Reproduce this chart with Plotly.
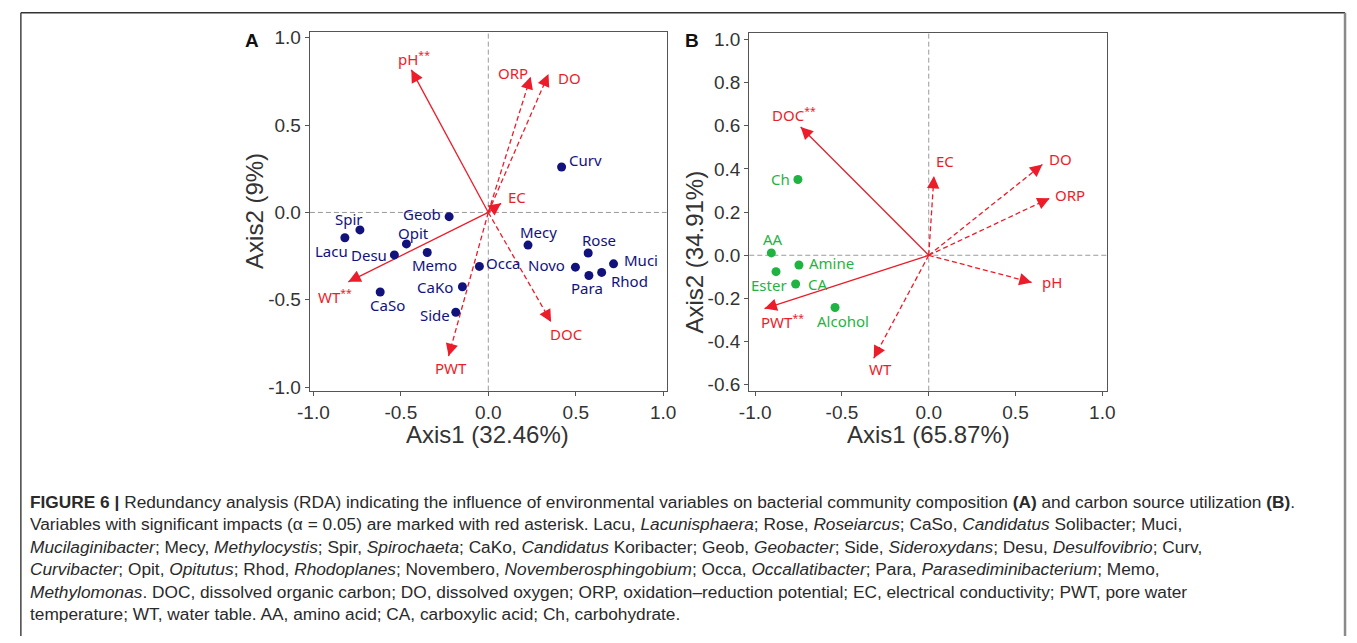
import math
import plotly.graph_objects as go

# ---------------- data ----------------
A_taxa = ["Spir", "Lacu", "Geob", "Opit", "Desu", "Memo", "Occa", "CaKo", "CaSo",
          "Side", "Mecy", "Rose", "Novo", "Muci", "Rhod", "Para", "Curv"]
A_x = [-0.734, -0.82, -0.224, -0.468, -0.537, -0.349, -0.051, -0.148, -0.618,
       -0.186, 0.227, 0.571, 0.498, 0.716, 0.648, 0.575, 0.419]
A_y = [-0.10, -0.145, -0.024, -0.18, -0.243, -0.229, -0.309, -0.425, -0.455,
       -0.571, -0.187, -0.232, -0.313, -0.294, -0.343, -0.361, 0.26]

A_env = ["pH", "ORP", "DO", "EC", "WT", "PWT", "DOC"]
A_env_x = [-0.44, 0.242, 0.344, 0.073, -0.80, -0.227, 0.359]
A_env_y = [0.816, 0.777, 0.792, 0.052, -0.397, -0.822, -0.627]
A_sig = [True, False, False, False, True, False, False]

B_src = ["Ch", "AA", "Amine", "Ester", "CA", "Alcohol"]
B_x = [-0.754, -0.907, -0.748, -0.88, -0.767, -0.54]
B_y = [0.351, 0.011, -0.045, -0.076, -0.133, -0.242]

B_env = ["DOC", "EC", "DO", "ORP", "pH", "PWT", "WT"]
B_env_x = [-0.738, 0.03, 0.655, 0.697, 0.593, -0.946, -0.317]
B_env_y = [0.594, 0.367, 0.42, 0.264, -0.126, -0.247, -0.477]
B_sig = [True, False, False, False, False, True, False]

A_ticks = [-1.0, -0.5, 0.0, 0.5, 1.0]
A_ticktext = ["-1.0", "-0.5", "0.0", "0.5", "1.0"]
B_xticks = [-1.0, -0.5, 0.0, 0.5, 1.0]
B_xticktext = ["-1.0", "-0.5", "0.0", "0.5", "1.0"]
B_yticks = [-0.6, -0.4, -0.2, 0.0, 0.2, 0.4, 0.6, 0.8, 1.0]
B_yticktext = ["-0.6", "-0.4", "-0.2", "0.0", "0.2", "0.4", "0.6", "0.8", "1.0"]

axis_titles = {"A_x": "Axis1 (32.46%)", "A_y": "Axis2 (9%)",
               "B_x": "Axis1 (65.87%)", "B_y": "Axis2 (34.91%)"}

caption_lines = [
    "<b>FIGURE 6 |</b> Redundancy analysis (RDA) indicating the influence of environmental variables on bacterial community composition <b>(A)</b> and carbon source utilization <b>(B)</b>.",
    "Variables with significant impacts (α = 0.05) are marked with red asterisk. Lacu, <i>Lacunisphaera</i>; Rose, <i>Roseiarcus</i>; CaSo, <i>Candidatus</i> Solibacter; Muci,",
    "<i>Mucilaginibacter</i>; Mecy, <i>Methylocystis</i>; Spir, <i>Spirochaeta</i>; CaKo, <i>Candidatus</i> Koribacter; Geob, <i>Geobacter</i>; Side, <i>Sideroxydans</i>; Desu, <i>Desulfovibrio</i>; Curv,",
    "<i>Curvibacter</i>; Opit, <i>Opitutus</i>; Rhod, <i>Rhodoplanes</i>; Novembero, <i>Novemberosphingobium</i>; Occa, <i>Occallatibacter</i>; Para, <i>Parasediminibacterium</i>; Memo,",
    "<i>Methylomonas</i>. DOC, dissolved organic carbon; DO, dissolved oxygen; ORP, oxidation–reduction potential; EC, electrical conductivity; PWT, pore water",
    "temperature; WT, water table. AA, amino acid; CA, carboxylic acid; Ch, carbohydrate.",
]

# ---------------- styles ----------------
W, H = 1357, 643
RED = "#ec1c2a"
NAVY = "#12127c"
GREEN = "#1fb441"
AXC = "#555555"
TXT = "#333333"
LABEL_FONT = "Noto Sans"

A_taxa_off = [(-11, -11), (-13, 13), (-27, -3), (7, -11), (-25, 0), (7, 13), (24, -3),
              (-27, 0), (7, 13), (-21, 3), (10, -13), (11, -13), (-29, -2), (27, -4),
              (28, 9), (-2, 12), (24, -7)]
A_env_off = [(3, -11), (-18, -4), (21, 4), (16, -6), (-13, 15), (2, 12), (15, 12)]
A_env_dash = ["solid", "5px,3px", "5px,3px", "solid", "solid", "5px,3px", "5px,3px"]
B_src_off = [(-17, 0), (2, -14), (33, -2), (-7, 13), (22, 0), (8, 13)]
B_env_off = [(-7, -12), (11, -15), (18, -6), (20, -3), (20, 0), (18, 13), (7, 11)]
B_env_dash = ["solid", "5px,3px", "5px,3px", "5px,3px", "5px,3px", "solid", "5px,3px"]


def px(v):
    return v / W


def py(v):
    return 1 - v / H


fig = go.Figure()
annotations = []
shapes = []


def add_panel(xref, yref, pts_x, pts_y, names, offs, color,
              ex, ey, enames, esig, eoffs, edash):
    shapes.append(dict(type="line", xref=xref, yref=yref + " domain", x0=0, x1=0, y0=0, y1=1,
                       line=dict(color="#9a9a9a", width=1, dash="5px,3px"), layer="below"))
    shapes.append(dict(type="line", xref=xref + " domain", yref=yref, x0=0, x1=1, y0=0, y1=0,
                       line=dict(color="#9a9a9a", width=1, dash="5px,3px"), layer="below"))
    for i in range(len(enames)):
        fig.add_trace(go.Scatter(x=[0, ex[i]], y=[0, ey[i]], mode="lines", xaxis=xref, yaxis=yref,
                                 line=dict(color=RED, width=1.3, dash=edash[i]),
                                 hoverinfo="skip", showlegend=False))
        L = math.hypot(ex[i], ey[i])
        back = 0.05 / L
        annotations.append(dict(x=ex[i], y=ey[i], ax=ex[i] * (1 - back), ay=ey[i] * (1 - back),
                                xref=xref, yref=yref, axref=xref, ayref=yref, text="",
                                showarrow=True, arrowhead=2, arrowsize=1.9, arrowwidth=1.3,
                                arrowcolor=RED, standoff=0, startstandoff=0))
        label = enames[i] + ("<sup>**</sup>" if esig[i] else "")
        annotations.append(dict(x=ex[i], y=ey[i], xref=xref, yref=yref, text=label,
                                showarrow=False, xshift=eoffs[i][0], yshift=-eoffs[i][1],
                                font=dict(family=LABEL_FONT, size=15, color=RED)))
    fig.add_trace(go.Scatter(x=pts_x, y=pts_y, mode="markers", xaxis=xref, yaxis=yref,
                             marker=dict(color=color, size=9), hoverinfo="skip", showlegend=False))
    for i in range(len(names)):
        annotations.append(dict(x=pts_x[i], y=pts_y[i], xref=xref, yref=yref, text=names[i],
                                showarrow=False, xshift=offs[i][0], yshift=-offs[i][1],
                                font=dict(family=LABEL_FONT, size=15, color=color)))


add_panel("x", "y", A_x, A_y, A_taxa, A_taxa_off, NAVY,
          A_env_x, A_env_y, A_env, A_sig, A_env_off, A_env_dash)
add_panel("x2", "y2", B_x, B_y, B_src, B_src_off, GREEN,
          B_env_x, B_env_y, B_env, B_sig, B_env_off, B_env_dash)

axis_common = dict(showline=True, mirror=True, linecolor=AXC, linewidth=1.3, ticks="outside",
                   ticklen=4, tickcolor=AXC, tickwidth=1.2, showgrid=False, zeroline=False,
                   tickfont=dict(family="Liberation Sans, Arial", size=19, color=TXT))

annotations += [
    dict(x=px(483), y=py(438), xref="paper", yref="paper", text=axis_titles["A_x"], showarrow=False,
         font=dict(family="Liberation Sans, Arial", size=24, color=TXT), xanchor="center", yanchor="middle"),
    dict(x=px(245), y=py(210), xref="paper", yref="paper", text=axis_titles["A_y"], showarrow=False,
         textangle=-90, font=dict(family="Liberation Sans, Arial", size=24, color=TXT),
         xanchor="center", yanchor="middle"),
    dict(x=px(931), y=py(438), xref="paper", yref="paper", text=axis_titles["B_x"], showarrow=False,
         font=dict(family="Liberation Sans, Arial", size=24, color=TXT), xanchor="center", yanchor="middle"),
    dict(x=px(693), y=py(252), xref="paper", yref="paper", text=axis_titles["B_y"], showarrow=False,
         textangle=-90, font=dict(family="Liberation Sans, Arial", size=24, color=TXT),
         xanchor="center", yanchor="middle"),
    dict(x=px(243), y=py(36), xref="paper", yref="paper", text="<b>A</b>", showarrow=False,
         font=dict(family="Liberation Sans, Arial", size=19, color="#111111"), xanchor="center", yanchor="middle"),
    dict(x=px(691), y=py(36), xref="paper", yref="paper", text="<b>B</b>", showarrow=False,
         font=dict(family="Liberation Sans, Arial", size=19, color="#111111"), xanchor="center", yanchor="middle"),
]

for i, line in enumerate(caption_lines):
    annotations.append(dict(x=px(15), y=py(506 + 23 * i), xref="paper", yref="paper", text=line,
                            showarrow=False, xanchor="left", yanchor="middle",
                            font=dict(family="Liberation Sans, Arial", size=17.3, color="#2a2a2a")))

shapes += [
    dict(type="line", xref="paper", yref="paper", x0=px(8), x1=px(1355), y0=py(8), y1=py(8),
         line=dict(color="#333333", width=1.5)),
    dict(type="line", xref="paper", yref="paper", x0=px(8), x1=px(8), y0=py(8), y1=py(643),
         line=dict(color="#444444", width=1.5)),
    dict(type="line", xref="paper", yref="paper", x0=px(1355), x1=px(1355), y0=py(8), y1=py(643),
         line=dict(color="#8a8a8a", width=2.5)),
]

fig.update_layout(
    width=W, height=H, margin=dict(l=0, r=0, t=0, b=0),
    paper_bgcolor="white", plot_bgcolor="white", showlegend=False,
    xaxis=dict(domain=[px(302), px(665)], range=[-1.02, 1.02], tickvals=A_ticks, ticktext=A_ticktext,
               anchor="y", **axis_common),
    yaxis=dict(domain=[py(393), py(28)], range=[-1.02, 1.03], tickvals=A_ticks, ticktext=A_ticktext,
               anchor="x", **axis_common),
    xaxis2=dict(domain=[px(749), px(1113)], range=[-1.034, 1.028], tickvals=B_xticks, ticktext=B_xticktext,
                anchor="y2", **axis_common),
    yaxis2=dict(domain=[py(393), py(29)], range=[-0.627, 1.027], tickvals=B_yticks, ticktext=B_yticktext,
                anchor="x2", **axis_common),
    annotations=annotations, shapes=shapes,
)

fig.write_html("out.html", config={"displayModeBar": False},
               post_script="document.body.style.margin='0px';document.body.style.padding='0px';"
                           "document.body.style.overflow='hidden';")
